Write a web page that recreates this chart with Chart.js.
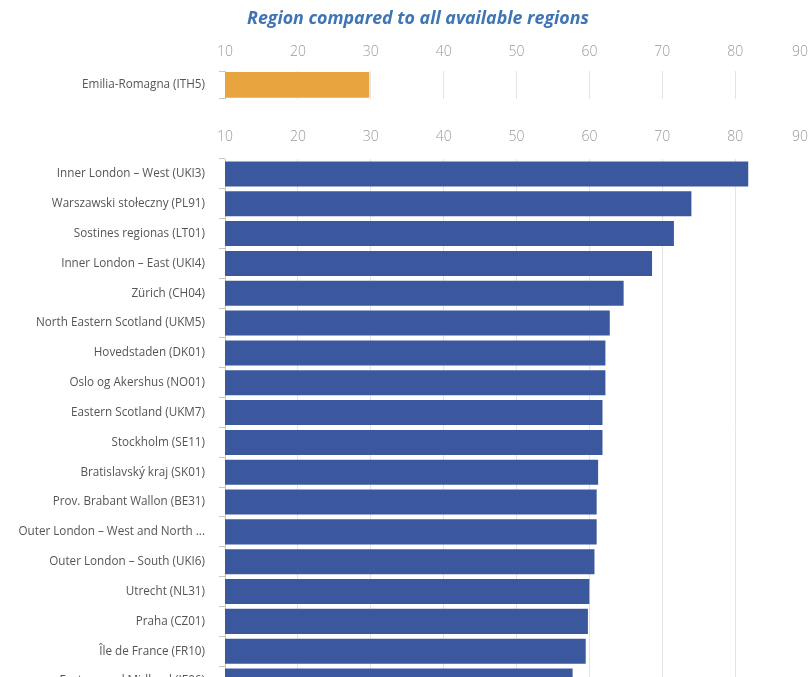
<!DOCTYPE html>
<html>
<head>
<meta charset="utf-8">
<script src="https://cdn.jsdelivr.net/npm/chart.js@4.4.1/dist/chart.umd.min.js"></script>
<style>
  html, body { margin: 0; padding: 0; background: #fff; overflow: hidden; width: 808px; height: 677px; }
  .box { position: absolute; left: 0; width: 840px; }
  #topBox  { top: 0;     height: 120px; }
  #mainBox { top: 127px; height: 590px; }
  #title {
    position: absolute; left: 0; top: 5px; width: 836px; text-align: center;
    font: italic bold 17.8px 'Open Sans', sans-serif; color: #3f74b5;
  }
</style>
</head>
<body>
<div class="box" id="topBox"><canvas id="topChart"></canvas></div>
<div class="box" id="mainBox"><canvas id="mainChart"></canvas></div>
<div id="title">Region compared to all available regions</div>

<script>
/* ── data ── */
const focusLabels = ['Emilia-Romagna (ITH5)'];
const focusValues = [29.8];

const regionLabels = [
  'Inner London – West (UKI3)',
  'Warszawski stołeczny (PL91)',
  'Sostines regionas (LT01)',
  'Inner London – East (UKI4)',
  'Zürich (CH04)',
  'North Eastern Scotland (UKM5)',
  'Hovedstaden (DK01)',
  'Oslo og Akershus (NO01)',
  'Eastern Scotland (UKM7)',
  'Stockholm (SE11)',
  'Bratislavský kraj (SK01)',
  'Prov. Brabant Wallon (BE31)',
  'Outer London – West and North ...',
  'Outer London – South (UKI6)',
  'Utrecht (NL31)',
  'Praha (CZ01)',
  'Île de France (FR10)',
  'Eastern and Midland (IE06)'
];
const regionValues = [81.8, 74.0, 71.6, 68.6, 64.7, 62.8, 62.2, 62.2, 61.8, 61.8,
                      61.2, 61.0, 61.0, 60.7, 60.0, 59.8, 59.5, 57.7];

const axisMin = 10;
const axisMax = 90;
const axisStep = 10;

/* ── shared style ── */
const GRID = '#e4e4e4';
const AXIS = '#c8c8c8';

// keep the last x label inside the page (right-aligned at the axis end)
const pinLastLabel = {
  id: 'pinLastLabel',
  beforeDraw(chart) {
    const s = chart.scales.x;
    const items = s.getLabelItems();
    const last = items[items.length - 1];
    if (!last) return;
    last.options.textAlign = 'right';
    last.options.translation[0] = s.right;
  }
};

// x axis on top; height is pinned so both charts line up with the picture
function xScale(pad, height) {
  return {
    type: 'linear',
    position: 'top',
    min: axisMin,
    max: axisMax,
    ticks: {
      stepSize: axisStep,
      padding: pad,
      color: '#9a9a9a',
      font: { family: 'Open Sans', size: 14, weight: 300 }
    },
    grid: { color: GRID, drawTicks: false },
    border: { display: false },
    afterFit: s => { s.height = height; }
  };
}

function yScale() {
  return {
    type: 'category',
    ticks: {
      padding: 14,
      color: '#555',
      font: { family: 'Open Sans', size: 11.7 }
    },
    grid: { drawOnChartArea: false, drawTicks: true, tickLength: 6, color: AXIS },
    border: { display: true, color: AXIS },
    afterFit: s => { s.width = 225; }
  };
}

/* ── top: selected region ── */
new Chart(document.getElementById('topChart'), {
  type: 'bar',
  data: {
    labels: focusLabels,
    datasets: [{
      data: focusValues,
      backgroundColor: '#e8a53f',
      barPercentage: 0.92,
      categoryPercentage: 1
    }]
  },
  options: {
    indexAxis: 'y',
    responsive: true,
    maintainAspectRatio: false,
    animation: false,
    layout: { autoPadding: false, padding: { right: 32, bottom: 1 } },
    plugins: {
      legend: { display: false },
      tooltip: { enabled: false }
    },
    scales: { x: xScale(11, 71), y: yScale() }
  },
  plugins: [pinLastLabel]
});

/* ── main: all regions ── */
new Chart(document.getElementById('mainChart'), {
  type: 'bar',
  data: {
    labels: regionLabels,
    datasets: [{
      data: regionValues,
      backgroundColor: '#3b589f',
      barPercentage: 0.84,
      categoryPercentage: 1
    }]
  },
  options: {
    indexAxis: 'y',
    responsive: true,
    maintainAspectRatio: false,
    animation: false,
    layout: { autoPadding: false, padding: { right: 32 } },
    plugins: {
      legend: { display: false },
      tooltip: { enabled: false }
    },
    scales: { x: xScale(14, 32), y: yScale() }
  },
  plugins: [pinLastLabel]
});
</script>
</body>
</html>
